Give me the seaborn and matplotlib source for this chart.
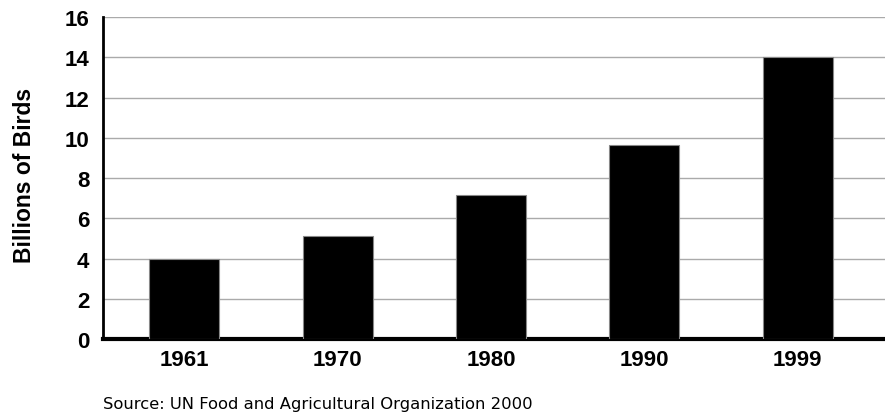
import pandas as pd
import seaborn as sns
import matplotlib.pyplot as plt

# Data
years = ["1961", "1970", "1980", "1990", "1999"]
birds = [4.0, 5.1, 7.15, 9.65, 14.0]

df = pd.DataFrame({"year": years, "birds": birds})

sns.set_style("white")
plt.rcParams["font.family"] = ["Liberation Sans", "DejaVu Sans"]
plt.rcParams["text.color"] = "black"
plt.rcParams["axes.labelcolor"] = "black"
plt.rcParams["xtick.color"] = "black"
plt.rcParams["ytick.color"] = "black"

fig = plt.figure(figsize=(8.85, 4.14), dpi=100)
ax = fig.add_axes([0.1164, 0.1787, 0.8836, 0.7778])

sns.barplot(data=df, x="year", y="birds", color="black", width=0.456,
            edgecolor="#888888", linewidth=0.8, saturation=1, ax=ax, zorder=3)

ax.set_ylim(0, 16)
ax.set_xlim(-0.53, 4.57)
ax.set_yticks(range(0, 17, 2))
ax.yaxis.grid(True, color="#aaaaaa", linewidth=1.0, zorder=0)
ax.set_axisbelow(True)

for side in ["top", "right"]:
    ax.spines[side].set_visible(False)
ax.spines["left"].set_linewidth(2)
ax.spines["left"].set_color("black")
ax.spines["bottom"].set_linewidth(3)
ax.spines["bottom"].set_color("black")

ax.tick_params(axis="both", length=0, labelsize=16)
ax.tick_params(axis="y", pad=10)
ax.tick_params(axis="x", pad=7)
for lbl in ax.get_xticklabels() + ax.get_yticklabels():
    lbl.set_fontweight("bold")

ax.set_xlabel("")
ax.set_ylabel("Billions of Birds", fontsize=16.5, fontweight="bold")
ax.yaxis.set_label_coords(-67 / 782, 0.51)

fig.text(103 / 885, 1 - 409 / 414, "Source: UN Food and Agricultural Organization 2000",
         fontsize=11.8, family="DejaVu Sans", ha="left", va="baseline")

fig.savefig("out.png", dpi=100)
